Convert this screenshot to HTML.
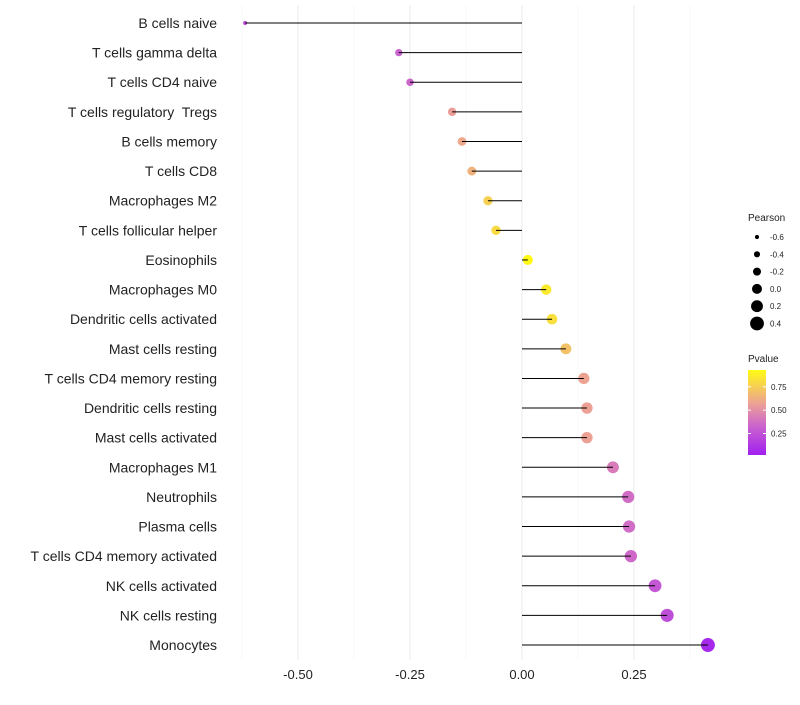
<!DOCTYPE html>
<html><head><meta charset="utf-8"><style>
body{margin:0;background:#fff;font-family:"Liberation Sans",sans-serif}
</style></head><body>
<svg id="c" width="800" height="700" xmlns="http://www.w3.org/2000/svg" font-family="Liberation Sans, sans-serif"></svg>
<script>
const categories=["B cells naive","T cells gamma delta","T cells CD4 naive","T cells regulatory  Tregs","B cells memory","T cells CD8","Macrophages M2","T cells follicular helper","Eosinophils","Macrophages M0","Dendritic cells activated","Mast cells resting","T cells CD4 memory resting","Dendritic cells resting","Mast cells activated","Macrophages M1","Neutrophils","Plasma cells","T cells CD4 memory activated","NK cells activated","NK cells resting","Monocytes"];
const pearson=[-0.618,-0.275,-0.25,-0.156,-0.134,-0.112,-0.076,-0.058,0.013,0.054,0.067,0.098,0.138,0.145,0.145,0.203,0.237,0.239,0.243,0.297,0.324,0.415];
const pvalue=[0.2,0.32,0.34,0.56,0.6,0.64,0.76,0.8,0.93,0.86,0.82,0.7,0.58,0.57,0.57,0.42,0.37,0.37,0.35,0.27,0.23,0.06];
const xTicks=[-0.5,-0.25,0,0.25];
const xTickLabels=["-0.50","-0.25","0.00","0.25"];
const sizeLegend=[-0.6,-0.4,-0.2,0.0,0.2,0.4];
const sizeLegendLabels=["-0.6","-0.4","-0.2","0.0","0.2","0.4"];
const colorTicks=[0.25,0.5,0.75];
const colorTickLabels=["0.25","0.50","0.75"];
const NS="http://www.w3.org/2000/svg",svg=document.getElementById('c');
function mk(t,a,p){const e=document.createElementNS(NS,t);for(const k in a)e.setAttribute(k,a[k]);(p||svg).appendChild(e);return e;}
const x=v=>522+v*448;
const y=i=>23+i*29.62;
const r=v=>2+(v+0.62)/(1.04)*5;
const pMin=0.02,pMax=0.93;
const stops=[[0,[160,32,240]],[0.35,[204,102,204]],[0.6,[236,160,150]],[1,[255,250,20]]];
function col(p){let t=Math.max(0,Math.min(1,(p-pMin)/(pMax-pMin)));for(let i=1;i<stops.length;i++){if(t<=stops[i][0]){const a=stops[i-1],b=stops[i],f=(t-a[0])/(b[0]-a[0]);return 'rgb('+a[1].map((c,j)=>Math.round(c+(b[1][j]-c)*f)).join(',')+')';}}return 'rgb(255,250,20)';}
[-0.625,-0.375,-0.125,0.125,0.375].forEach(v=>{const g=mk('line',{x1:x(v),x2:x(v),y1:5,y2:660,stroke:'#f4f4f4','stroke-width':0.6});

});
xTicks.forEach((v,i)=>{const g=mk('line',{x1:x(v),x2:x(v),y1:5,y2:660,stroke:'#ebebeb','stroke-width':1});


const t=mk('text',{x:x(v),y:679,'text-anchor':'middle','font-size':13,fill:'#222'});t.textContent=xTickLabels[i];

});
categories.forEach((c,i)=>{
const t=mk('text',{x:217,y:y(i)+5,'text-anchor':'end','font-size':14,fill:'#222','xml:space':'preserve'});t.style.whiteSpace='pre';t.textContent=c;


const d=mk('circle',{cx:x(pearson[i]),cy:y(i),r:r(pearson[i]),fill:col(pvalue[i])});


const l=mk('line',{x1:x(0),x2:x(pearson[i]),y1:y(i),y2:y(i),stroke:'#000','stroke-width':1});


});
const lt=mk('text',{x:748,y:221,'font-size':10,fill:'#222'});lt.textContent='Pearson';


sizeLegend.forEach((v,i)=>{const cy=237+i*17.3;
const d=mk('circle',{cx:757,cy:cy,r:r(v),fill:'#000'});


const t=mk('text',{x:770,y:cy+3,'font-size':8,fill:'#222'});t.textContent=sizeLegendLabels[i];

});
const ct=mk('text',{x:748,y:362,'font-size':10,fill:'#222'});ct.textContent='Pvalue';


const defs=mk('defs',{});const gr=mk('linearGradient',{id:'g',x1:0,y1:1,x2:0,y2:0},defs);
stops.forEach(s=>mk('stop',{offset:s[0],'stop-color':'rgb('+s[1].join(',')+')'},gr));
const bar=mk('rect',{x:748,y:370,width:18,height:85,fill:'url(#g)'});


const cy=p=>455-(p-pMin)/(pMax-pMin)*85;
colorTicks.forEach((v,i)=>{mk('line',{x1:748,x2:751,y1:cy(v),y2:cy(v),stroke:'#fff'});mk('line',{x1:763,x2:766,y1:cy(v),y2:cy(v),stroke:'#fff'});
const t=mk('text',{x:771,y:cy(v)+3,'font-size':8,fill:'#222'});t.textContent=colorTickLabels[i];

});
</script>
</body></html>
